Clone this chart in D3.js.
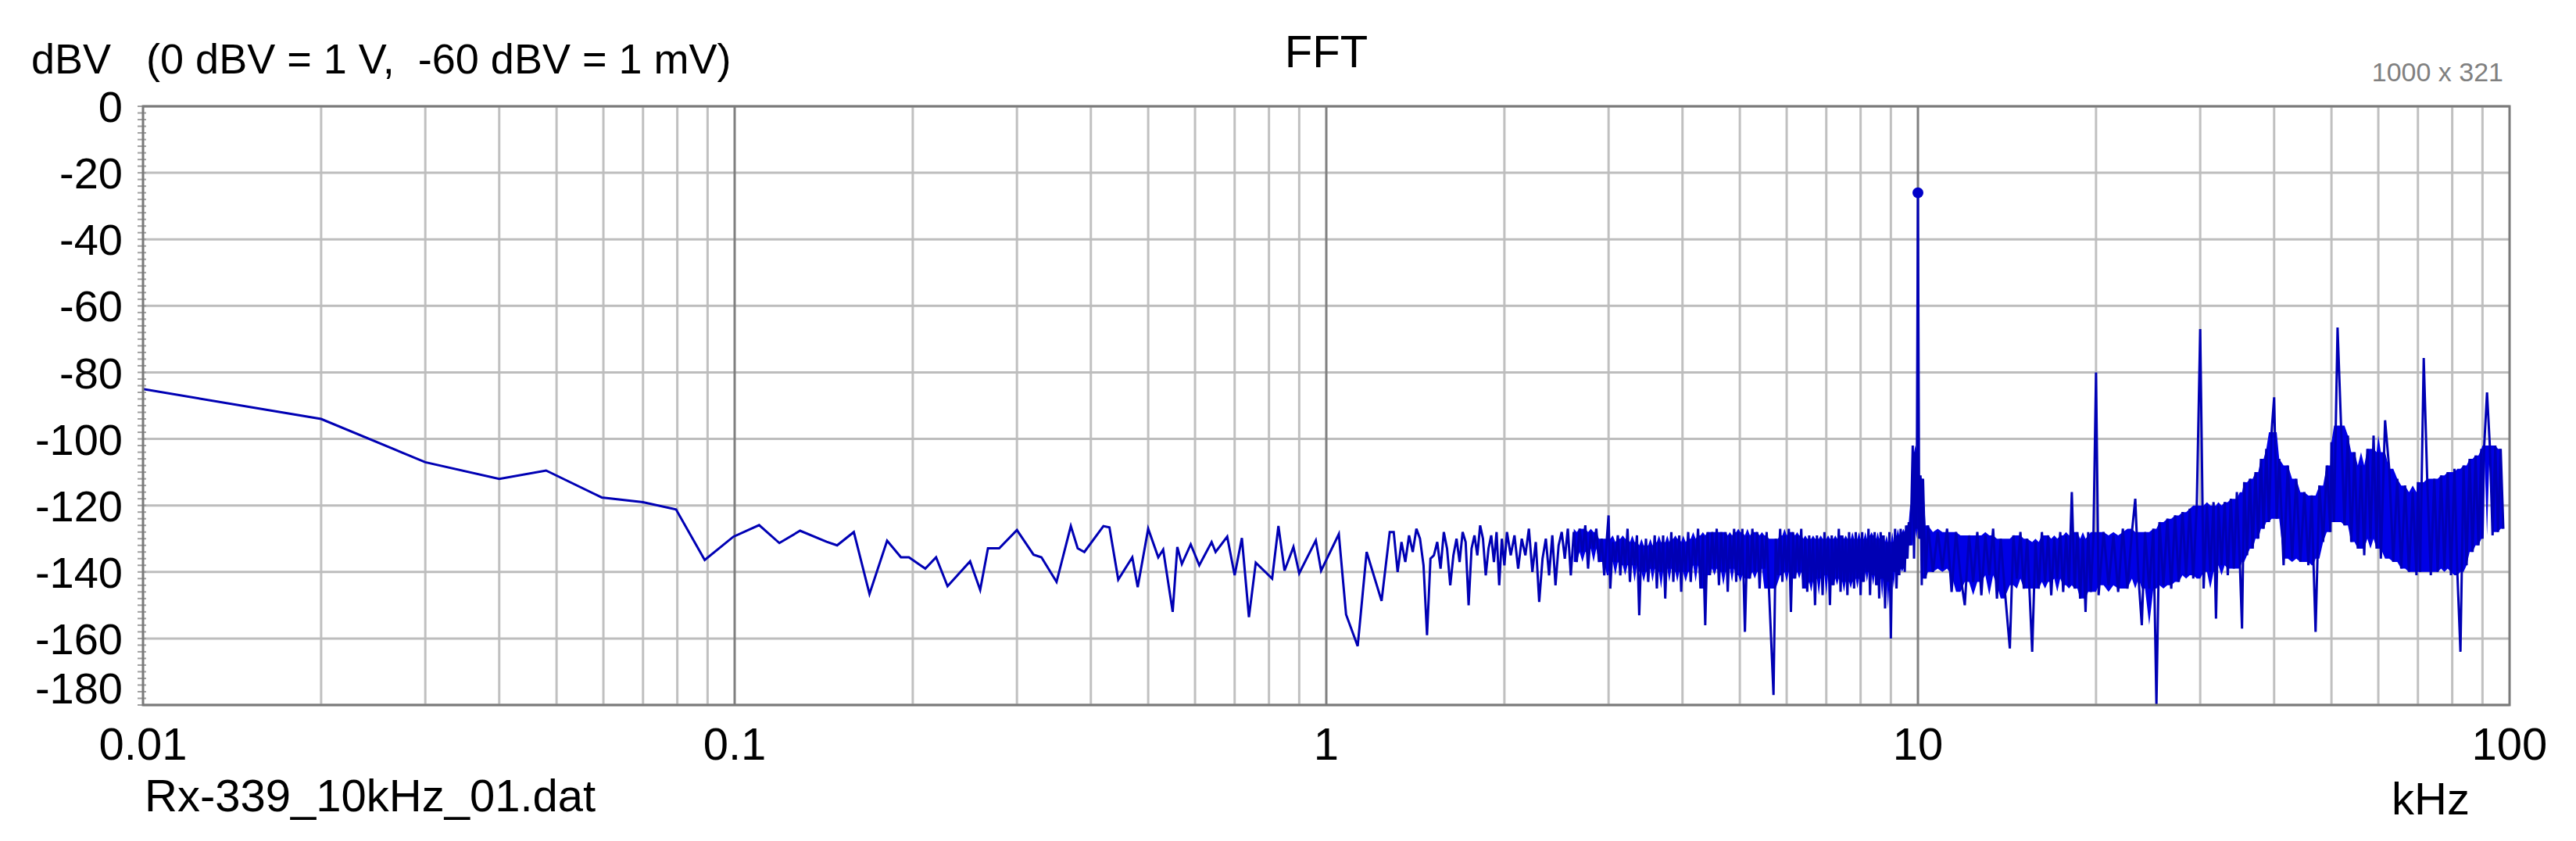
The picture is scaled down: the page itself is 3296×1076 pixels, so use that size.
<!DOCTYPE html>
<html><head><meta charset="utf-8">
<script src="https://cdn.jsdelivr.net/npm/d3@7"></script>
<style>body{margin:0;background:#fff}text{font-family:"Liberation Sans",Arial,sans-serif}</style>
</head><body><svg id="c" width="3296" height="1076"></svg>
<script>
const title = "FFT";
const yTitle = "dBV   (0 dBV = 1 V,  -60 dBV = 1 mV)";
const fileName = "Rx-339_10kHz_01.dat";
const sizeNote = "1000 x 321";
const xUnit = "kHz";
const xTickValues = [0.01, 0.1, 1, 10, 100];
const xTickLabels = ["0.01", "0.1", "1", "10", "100"];
const yTickValues = [0,-20,-40,-60,-80,-100,-120,-140,-160,-180];

// spectrum, low-frequency part (kHz, dBV)
const freqLow = [0.01,0.02,0.03,0.04,0.048,0.0596,0.07,0.0796,0.089,0.0995,0.110,0.119,0.129,0.143,0.149,0.159,0.169,0.181,0.191,0.197,0.210,0.219,0.229,0.25,0.26,0.268,0.28,0.30,0.32,0.33,0.35,0.37,0.38,0.39,0.42,0.43,0.445,0.47,0.48,0.50,0.52,0.53,0.55,0.56,0.57,0.59,0.61,0.64,0.65,0.68,0.70,0.72,0.74,0.76,0.81,0.83,0.85,0.88,0.90,0.96,0.98,1.05,1.08,1.13,1.17,1.24,1.28];
const dbLow = [-85,-94,-107,-112,-109.5,-117.6,-119,-121.2,-136.4,-129.4,-125.9,-131.3,-127.6,-130.9,-132,-128,-146.6,-130.6,-135.6,-135.6,-139,-135.6,-144.3,-136.8,-145.4,-132.9,-132.9,-127.4,-134.8,-135.6,-143,-126.2,-132.9,-134,-126.2,-126.6,-142.3,-135.6,-144.6,-127,-135.6,-133.3,-152,-132.5,-137.6,-131.7,-138,-131,-134,-129.4,-141,-129.8,-153.6,-137.2,-142,-126.2,-139.6,-132.5,-140.4,-130.5,-139.6,-128.6,-152.8,-162.3,-134,-148.7,-128];

// mid part 1.3 - 10 kHz
const freqMid = [1.30,1.32,1.34,1.36,1.38,1.40,1.42,1.44,1.46,1.48,1.50,1.52,1.54,1.56,1.58,1.60,1.62,1.64,1.66,1.68,1.70,1.72,1.74,1.76,1.78,1.80,1.82,1.84,1.86,1.88,1.90,1.92,1.94,1.96,1.98,2.00,2.02,2.05,2.08,2.11,2.14,2.17,2.20,2.23,2.26,2.29,2.32,2.35,2.38,2.41,2.44,2.47,2.50,2.53,2.56,2.59,2.62,2.65,2.68,2.71,2.74,2.77,2.80,2.83,2.86,2.89,2.92,2.95,2.98,3.00,3.02,3.05,3.08,3.11,3.14,3.17,3.20,3.23,3.26,3.29,3.32,3.35,3.38,3.41,3.44,3.47,3.50,3.53,3.56,3.59,3.62,3.65,3.68,3.71,3.74,3.77,3.80,3.83,3.86,3.89,3.92,3.95,3.98,4.01,4.05,4.09,4.13,4.17,4.21,4.25,4.29,4.33,4.37,4.41,4.45,4.49,4.53,4.57,4.61,4.65,4.69,4.73,4.77,4.81,4.85,4.89,4.93,4.97,5.01,5.05,5.10,5.15,5.20,5.25,5.30,5.35,5.40,5.45,5.50,5.55,5.60,5.70,5.75,5.80,5.85,5.90,5.95,6.00,6.05,6.10,6.15,6.20,6.25,6.30,6.35,6.40,6.45,6.50,6.55,6.60,6.65,6.70,6.75,6.80,6.85,6.90,6.95,7.00,7.05,7.10,7.15,7.20,7.25,7.30,7.35,7.40,7.45,7.50,7.55,7.60,7.65,7.70,7.75,7.80,7.85,7.90,7.95,8.00,8.05,8.10,8.15,8.20,8.25,8.30,8.35,8.40,8.45,8.50,8.55,8.60,8.65,8.70,8.75,8.80,8.85,8.90,8.95,9.00,9.05,9.10,9.15,9.20,9.25,9.30,9.35,9.40,9.45,9.50,9.55,9.60,9.65,9.70,9.75,9.80,9.85,9.90,9.95];
const dbMid = [-128,-140,-131,-137,-129,-134,-127,-130,-138,-159,-136,-135,-131,-139,-128,-133,-144,-135,-130,-137,-128,-131,-150,-133,-129,-135,-126,-130,-141,-133,-129,-137,-128,-144,-130,-138,-128,-135,-129,-139,-130,-135,-127,-140,-131,-149,-136,-130,-141,-129,-144,-132,-128,-136,-127,-141,-128,-137,-127,-134,-126,-139,-128,-133,-127,-137,-130,-141,-130,-123,-145,-131,-137,-129,-141,-130,-138,-127,-143,-131,-138,-129,-153,-132,-140,-130,-143,-132,-139,-129,-145,-131,-140,-129,-148,-131,-139,-128,-143,-130,-140,-129,-146,-131,-140,-128,-143,-130,-138,-127,-145,-129,-156,-128,-141,-128,-139,-127,-144,-128,-140,-128,-146,-129,-139,-127,-143,-128,-141,-127,-158,-129,-142,-127,-140,-128,-145,-129,-139,-128,-145,-177,-130,-141,-127,-143,-129,-140,-127,-152,-128,-142,-129,-140,-127,-145,-130,-146,-129,-143,-130,-150,-129,-142,-130,-147,-128,-141,-130,-150,-129,-144,-130,-142,-127,-146,-129,-143,-130,-147,-128,-143,-130,-145,-128,-142,-130,-147,-128,-143,-130,-140,-127,-147,-129,-141,-128,-144,-130,-148,-128,-142,-129,-151,-131,-143,-128,-160,-131,-140,-127,-145,-129,-141,-127,-139,-128,-140,-126,-136,-125,-132,-120,-102,-136,-104,-127];

// high part 10 - 98 kHz
const freqHigh = [10.0,10.05,10.1,10.15,10.2,10.3,10.4,10.6,10.8,11.0,11.2,11.4,11.6,11.8,12.0,12.2,12.4,12.6,12.8,13.0,13.2,13.4,13.6,13.8,14.0,14.3,14.5,14.7,14.9,15.1,15.3,15.6,15.8,16.0,16.2,16.4,16.6,16.8,17.0,17.2,17.4,17.6,17.8,18.0,18.2,18.4,18.6,18.8,19.0,19.2,19.4,19.6,19.8,20.0,20.2,20.6,21.0,21.4,21.8,22.2,22.6,23.0,23.3,23.6,23.9,24.2,24.6,25.0,25.3,25.6,26.0,26.4,26.8,27.2,27.6,28.0,28.4,28.8,29.2,29.6,30.0,30.4,30.8,31.2,31.6,31.9,32.2,32.6,33.0,33.4,33.8,34.2,34.6,35.0,35.3,35.6,36.0,36.4,36.8,37.2,37.6,38.0,38.4,38.8,39.2,39.6,40.0,40.4,40.8,41.5,42.2,42.9,43.6,44.3,45.0,45.7,46.3,46.6,47.0,47.7,48.4,49.1,49.8,50.0,50.5,51.2,51.9,52.6,53.3,54.0,54.7,55.4,56.1,56.8,57.5,58.2,58.9,59.6,60.0,60.6,61.6,62.6,63.6,64.6,65.6,66.6,67.6,68.6,69.6,70.0,70.6,71.6,72.6,73.6,74.6,75.6,76.6,77.6,78.6,79.6,80.7,81.6,82.6,83.6,84.6,85.6,86.6,87.6,88.6,89.6,90.0,90.6,91.6,92.6,93.6,94.6,95.6,96.6,97.6];
const dbHigh = [-26,-130,-111,-144,-112,-142,-126,-140,-128,-139,-127,-146,-128,-141,-150,-129,-143,-128,-147,-129,-141,-127,-148,-130,-144,-163,-129,-142,-128,-145,-130,-164,-131,-145,-128,-143,-129,-147,-130,-142,-128,-146,-129,-144,-116,-145,-128,-148,-130,-152,-128,-146,-129,-80,-147,-128,-144,-129,-146,-127,-145,-128,-118,-142,-156,-128,-145,-127,-180,-125,-144,-124,-145,-123,-143,-122,-141,-121,-142,-120,-67,-145,-120,-140,-119,-154,-120,-138,-119,-141,-118,-139,-116,-137,-157,-113,-135,-112,-133,-110,-130,-106,-127,-103,-125,-98,-87.5,-124,-106,-138,-108,-136,-112,-137,-116,-138,-117,-136,-158,-114,-131,-108,-128,-101,-125,-66.5,-96,-126,-99,-131,-104,-133,-108,-135,-103,-130,-99,-133,-104,-136,-94.4,-109,-137,-112,-139,-114,-140,-116,-141,-113,-140,-75.7,-113,-141,-112,-140,-111,-139,-110,-141,-109,-140,-164,-108,-138,-106,-134,-105,-132,-103,-130,-102,-86,-102,-129,-102,-128,-103,-127,-104,-126];

const margin = {left:183, right:3211, top:136, bottom:902};
const svg = d3.select("#c");
const x = d3.scaleLog().domain([0.01,100]).range([margin.left, margin.right]);
const y = d3.scaleLinear().domain([0,-180]).range([margin.top, margin.bottom]);

const minorX = [];
[0.01,0.1,1,10].forEach(d => { for (let k=2;k<=9;k++) minorX.push(d*k); });
svg.append("g").selectAll("line").data(minorX).join("line")
  .attr("x1",d=>x(d)).attr("x2",d=>x(d)).attr("y1",margin.top).attr("y2",margin.bottom)
  .attr("stroke","#c0c0c0").attr("stroke-width",3);
svg.append("g").selectAll("line").data(yTickValues).join("line")
  .attr("x1",margin.left).attr("x2",margin.right).attr("y1",d=>y(d)).attr("y2",d=>y(d))
  .attr("stroke","#bdbdbd").attr("stroke-width",3);
svg.append("g").selectAll("line").data(xTickValues.slice(1,4)).join("line")
  .attr("x1",d=>x(d)).attr("x2",d=>x(d)).attr("y1",margin.top).attr("y2",margin.bottom)
  .attr("stroke","#808080").attr("stroke-width",3);

const yMinor = d3.range(0,-181,-2);
svg.append("g").selectAll("line").data(yMinor).join("line")
  .attr("x1",margin.left-7).attr("x2",margin.left+4).attr("y1",d=>y(d)).attr("y2",d=>y(d))
  .attr("stroke","#a0a0a0").attr("stroke-width",2);

const pts = [];
freqLow.forEach((f,i)=>pts.push([f,dbLow[i]]));
freqMid.forEach((f,i)=>pts.push([f,dbMid[i]]));
freqHigh.forEach((f,i)=>pts.push([f,dbHigh[i]]));

svg.append("defs").append("clipPath").attr("id","cp").append("rect")
  .attr("x",margin.left).attr("y",margin.top).attr("width",margin.right-margin.left).attr("height",margin.bottom-margin.top);

// dense core of the noise band (derived from neighbouring points)
const core = [];
pts.forEach((p,i)=>{
  if (p[0] < 2.6) return;
  const w = pts.slice(Math.max(0,i-2), i+3).map(d=>d[1]).sort((a,b)=>a-b);
  core.push({f:p[0], hi:w[w.length-2], lo:w[1]});
});
svg.append("path").datum(core).attr("clip-path","url(#cp)")
  .attr("d", d3.area().x(d=>x(d.f)).y0(d=>y(d.lo)).y1(d=>y(d.hi)))
  .attr("fill","#0000e6");

const line = d3.line().x(d=>x(d[0])).y(d=>y(Math.max(-180,d[1])));
svg.append("path").datum(pts).attr("d",line).attr("fill","none")
  .attr("stroke","#0000b4").attr("stroke-width",3).attr("stroke-linejoin","miter").attr("clip-path","url(#cp)");
const peak = pts.reduce((a,b)=>b[1]>a[1]?b:a);
svg.append("circle").attr("cx",x(peak[0])).attr("cy",y(peak[1])).attr("r",7).attr("fill","#0000c8");

svg.append("rect").attr("x",margin.left).attr("y",margin.top)
  .attr("width",margin.right-margin.left).attr("height",margin.bottom-margin.top)
  .attr("fill","none").attr("stroke","#7a7a7a").attr("stroke-width",3);

svg.append("g").selectAll("text").data(yTickValues).join("text")
  .attr("x",157).attr("y",d=>d===-180? y(d)-22 : y(d)).attr("dy","0.36em")
  .attr("text-anchor","end").attr("font-size",56).attr("fill","#000").text(d=>String(d));
svg.append("g").selectAll("text").data(xTickValues).join("text")
  .attr("x",(d,i)=>x(d)).attr("y",972).attr("text-anchor","middle").attr("font-size",58).attr("fill","#000")
  .text((d,i)=>xTickLabels[i]);

svg.append("text").attr("x",40).attr("y",94).attr("font-size",54).style("white-space","pre").text(yTitle);
svg.append("text").attr("x",1697).attr("y",86).attr("text-anchor","middle").attr("font-size",58).text(title);
svg.append("text").attr("x",3203).attr("y",104).attr("text-anchor","end").attr("font-size",34).attr("fill","#808080").text(sizeNote);
svg.append("text").attr("x",185).attr("y",1038).attr("font-size",58).text(fileName);
svg.append("text").attr("x",3060).attr("y",1042).attr("font-size",58).text(xUnit);
</script></body></html>
